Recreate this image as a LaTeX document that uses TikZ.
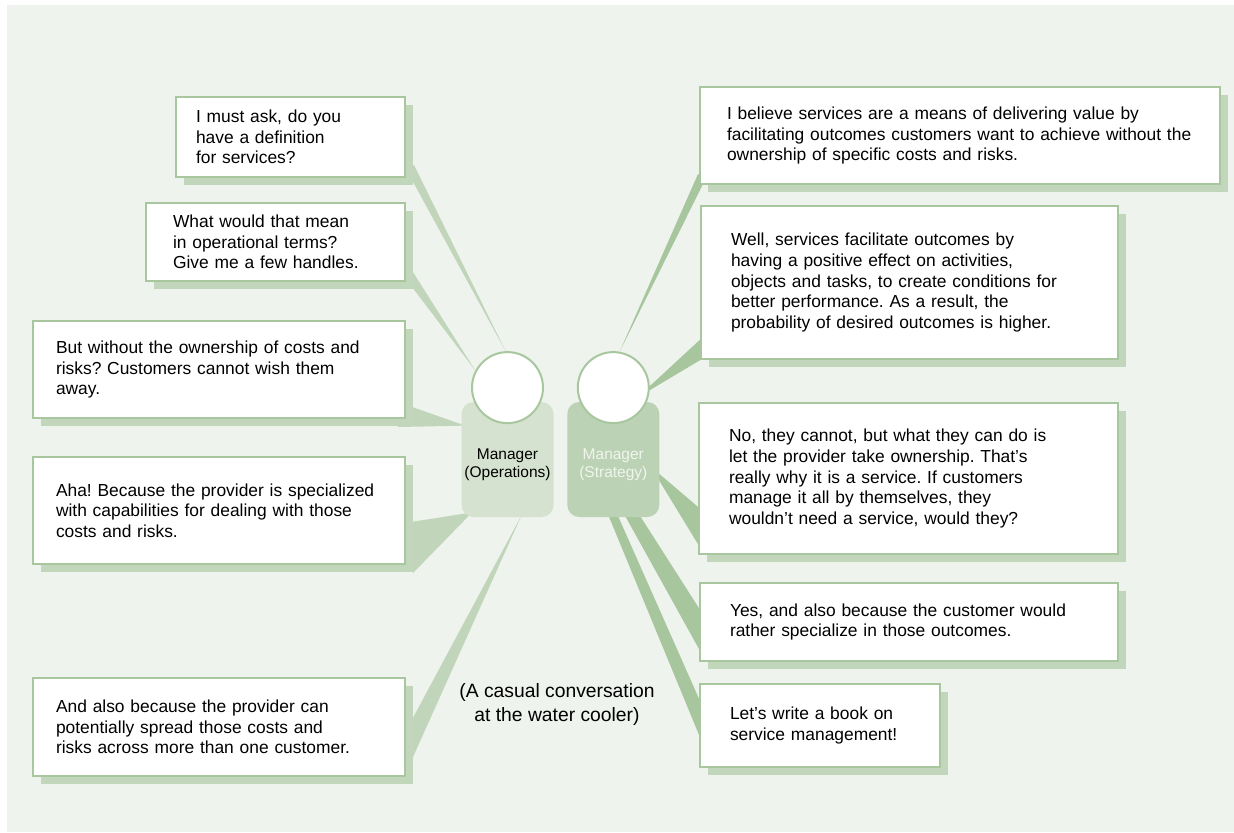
\documentclass[tikz,border=0pt]{standalone}
\usepackage{fontspec}
\setmainfont{Liberation Sans}
\usetikzlibrary{positioning,calc,shadows}
\definecolor{paper}{RGB}{238,243,237}
\definecolor{boxline}{RGB}{168,199,158}
\definecolor{shadowgreen}{RGB}{194,214,187}
\definecolor{opsfill}{RGB}{214,226,208}
\definecolor{stratfill}{RGB}{188,210,180}
\definecolor{strattext}{RGB}{240,245,238}
\definecolor{opsgreen}{RGB}{192,213,185}
\definecolor{stratgreen}{RGB}{168,198,157}

\pgfdeclarelayer{back}
\pgfdeclarelayer{tails}
\pgfsetlayers{back,tails,main}

\begin{document}
\frenchspacing
\begin{tikzpicture}[
  x=0.5pt,
  y=-0.5pt,
  talk/.style={
    draw=boxline,
    line width=1pt,
    fill=white,
    anchor=north west,
    align=left,
    inner ysep=0pt,
    font=\fontsize{8.7pt}{10.35pt}\selectfont,
    drop shadow={shadow xshift=4pt,shadow yshift=-4pt,fill=shadowgreen,opacity=1}
  },
  manager/.style={
    rounded corners=6pt,
    minimum width=46pt,
    minimum height=57.5pt,
    inner sep=0pt
  },
  role/.style={
    align=center,
    font=\fontsize{7.75pt}{9pt}\selectfont
  },
  head/.style={
    circle,
    draw=boxline,
    line width=1pt,
    fill=white,
    minimum size=35.5pt,
    inner sep=0pt
  },
  opstail/.style={fill=opsgreen},
  strattail/.style={fill=stratgreen},
  note/.style={
    align=center,
    font=\fontsize{9.65pt}{12pt}\selectfont
  }
]

\useasboundingbox (0,0) rectangle (1234,832);
\begin{pgfonlayer}{back}
  \fill[paper] (7,5) rectangle (1234,832);
\end{pgfonlayer}

% Operations manager's lines
\node[talk,inner xsep=10pt,text width=94.5pt,minimum height=40pt] (l1) at (175,96)
  {I must ask, do you\\have a definition\\for services?};
\node[talk,inner xsep=13.5pt,text width=102.5pt,minimum height=39pt] (l2) at (145,202)
  {What would that mean\\in operational terms?\\Give me a few handles.};
\node[talk,inner xsep=11.5pt,text width=163pt,minimum height=48.5pt] (l3) at (32,320)
  {But without the ownership of costs and\\risks? Customers cannot wish them\\away.};
\node[talk,inner xsep=11.5pt,text width=163pt,minimum height=53.5pt] (l4) at (32,456)
  {Aha! Because the provider is specialized\\with capabilities for dealing with those\\costs and risks.};
\node[talk,inner xsep=11.5pt,text width=163pt,minimum height=49pt] (l5) at (32,677)
  {And also because the provider can\\potentially spread those costs and\\risks across more than one customer.};

% Strategy manager's lines
\node[talk,inner xsep=13.5pt,text width=233pt,minimum height=48.5pt] (r1) at (699,86)
  {I believe services are a means of delivering value by\\facilitating outcomes customers want to achieve without the\\ownership of specific costs and risks.};
\node[talk,inner xsep=15pt,text width=178.5pt,minimum height=76.5pt] (r2) at (700,205)
  {Well, services facilitate outcomes by\\having a positive effect on activities,\\objects and tasks, to create conditions for\\better performance. As a result, the\\probability of desired outcomes is higher.};
\node[talk,inner xsep=15pt,text width=179.5pt,minimum height=75.5pt] (r3) at (698,402)
  {No, they cannot, but what they can do is\\let the provider take ownership. That's\\really why it is a service. If customers\\manage it all by themselves, they\\wouldn't need a service, would they?};
\node[talk,inner xsep=15pt,text width=179pt,minimum height=39pt] (r4) at (699,582)
  {Yes, and also because the customer would\\rather specialize in those outcomes.};
\node[talk,inner xsep=15pt,text width=90pt,minimum height=41.5pt] (r5) at (699,683)
  {Let's write a book on\\service management!};

% The two managers
\node[manager,fill=opsfill] (opsbody) at (507.5,459.5) {};
\node[manager,fill=stratfill,right=6.5pt of opsbody] (stratbody) {};
\node[head] (opshead) at ($(opsbody.north)+(0,-14)$) {};
\node[head] (strathead) at ($(stratbody.north)+(0,-14)$) {};
\node[role] (opsrole) at ($(opsbody.center)+(0,5)$) {Manager\\(Operations)};
\node[role,text=strattext] (stratrole) at ($(stratbody.center)+(0,5)$) {Manager\\(Strategy)};

\node[note] (cooler) at (557,704) {(A casual conversation\\at the water cooler)};

% Speech tails, kept behind boxes and managers
\begin{pgfonlayer}{tails}
  \fill[opstail] ($(l1.south east)+(8,-13)$) -- ($(l1.south east)+(0,-9)$) -- (opshead.93) -- cycle;
  \fill[opstail] ($(l2.south east)+(5,-13)$) -- ($(l2.south east)+(-3,-7)$) -- (opshead.152) -- cycle;
  \fill[opstail] ($(l3.south east)+(-8,-17)$) -- ($(l3.south east)+(-8,8)$) -- ($(opsbody.north west)+(4,24)$) -- cycle;
  \fill[opstail] ($(l4.south east)+(-8,-41)$) -- ($(l4.south east)+(7,8)$) -- ($(opsbody.south west)+(11,-5)$) -- cycle;
  \fill[opstail] ($(l5.south east)+(-6,-35)$) -- ($(l5.south east)+(-2,0)$) -- ($(opsbody.south)+(14,-2)$) -- cycle;

  \fill[strattail] ($(r1.south west)+(7,-7)$) -- ($(r1.south west)+(-1,-11)$) -- (strathead.80) -- cycle;
  \fill[strattail] ($(r2.south west)+(4,-24)$) -- ($(r2.south west)+(2,-1)$) -- ($(strathead.center)+(24,10)$) -- cycle;
  \fill[strattail] ($(r3.south west)+(6,-43)$) -- ($(r3.south west)+(6,-1)$) -- ($(stratbody.north east)+(-9,65)$) -- cycle;
  \fill[strattail] ($(stratbody.south)+(6,-12)$) -- ($(stratbody.south)+(20,-12)$)
    -- ($(r4.south west)+(5,-46)$) -- ($(r4.south west)+(5,-4)$) -- cycle;
  \fill[strattail] ($(stratbody.south)+(-9,-12)$) -- ($(stratbody.south)+(0,-12)$)
    -- ($(r5.south west)+(5,-58)$) -- ($(r5.south west)+(5,-21)$) -- cycle;
\end{pgfonlayer}

\end{tikzpicture}
\end{document}
